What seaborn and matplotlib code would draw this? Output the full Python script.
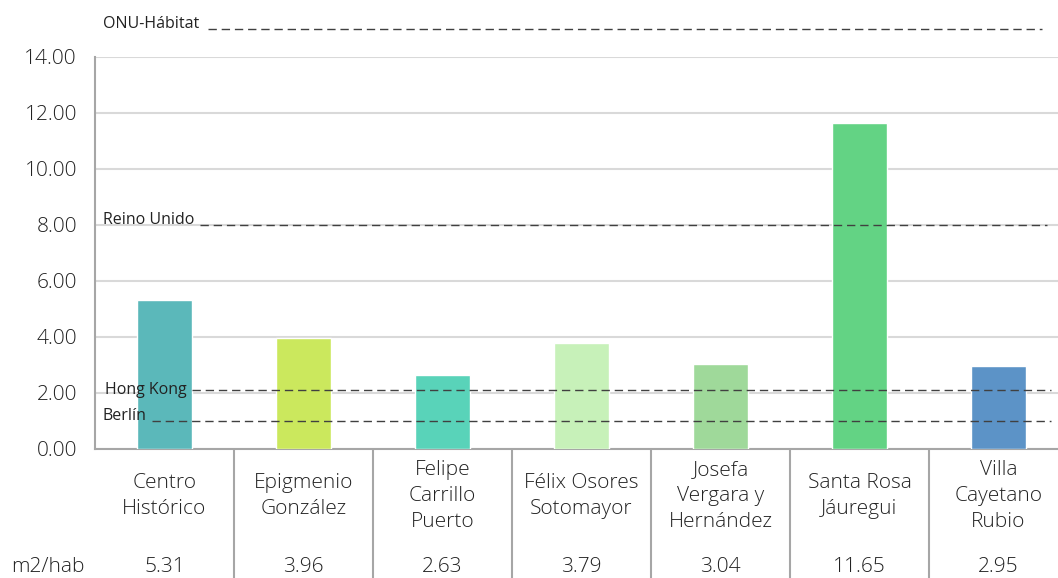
import matplotlib
matplotlib.use("Agg")
import matplotlib.pyplot as plt
import matplotlib.transforms as mtransforms
import seaborn as sns
import pandas as pd

# datos
colonias = ["Centro\nHistórico", "Epigmenio\nGonzález", "Felipe\nCarrillo\nPuerto",
            "Félix Osores\nSotomayor", "Josefa\nVergara y\nHernández",
            "Santa Rosa\nJáuregui", "Villa\nCayetano\nRubio"]
m2_hab = [5.31, 3.96, 2.63, 3.79, 3.04, 11.65, 2.95]
colores = ["#5BB8BA", "#CBE85D", "#59D3B9", "#C7F1B9", "#9FD99A", "#63D384", "#5C93C7"]

referencias = ["ONU-Hábitat", "Reino Unido", "Hong Kong", "Berlín"]
ref_valores = [15.0, 8.0, 2.1, 1.0]

sns.set_theme(style="white")
plt.rcParams["font.family"] = ["Open Sans", "DejaVu Sans"]
plt.rcParams["font.weight"] = "light"

df = pd.DataFrame({"colonia": colonias, "m2": m2_hab})

fig = plt.figure(figsize=(10.58, 5.78), dpi=100)
ax = fig.add_axes([95 / 1058, 129 / 578, 973 / 1058, 392 / 578])

sns.barplot(data=df, x="colonia", y="m2", hue="colonia", palette=colores,
            order=colonias, width=0.40, legend=False, saturation=1, ax=ax, zorder=3)

ax.set_xlim(-0.5, 6.5)
ax.set_ylim(0, 14)
ax.set_yticks(range(0, 15, 2))
ax.set_yticklabels([f"{v:.2f}" for v in range(0, 15, 2)], fontsize=15,
                   color="#222222", fontweight="light")
ax.tick_params(axis="y", length=0, pad=13)
ax.set_xticks([])
ax.set_xlabel("")
ax.set_ylabel("")
ax.yaxis.grid(True, color="#D9D9D9", lw=1.5, zorder=0)
ax.set_axisbelow(True)
for s in ["top", "right"]:
    ax.spines[s].set_visible(False)
for s in ["left", "bottom"]:
    ax.spines[s].set_color("#A6A6A6")
    ax.spines[s].set_linewidth(1.5)

# líneas de referencia
tr = mtransforms.blended_transform_factory(ax.transAxes, ax.transData)
inicio = [0.116, 0.108, 0.0997, 0.059]
fin = [0.973, 0.978, 0.983, 0.983]
for nombre, val, x0, x1 in zip(referencias, ref_valores, inicio, fin):
    ax.axhline(val, xmin=x0, xmax=x1, color="#404040", lw=1, ls=(0, (6, 3.5)),
               clip_on=False, zorder=4)
    if nombre == "Hong Kong":
        ax.text(0.0098, val + 0.02, nombre, transform=tr, fontsize=11.5,
                fontweight="normal", va="center", ha="left", color="#222222", zorder=5)
    else:
        ax.text(0.0082, val + 0.04, nombre, transform=tr, fontsize=11.5,
                fontweight="normal", va="baseline", ha="left", color="#222222", zorder=5)

# tabla de datos
xt = ax.get_xaxis_transform()
for i, (nombre, val) in enumerate(zip(colonias, m2_hab)):
    ax.text(i, -0.12, nombre, transform=xt, ha="center", va="center",
            fontsize=15, color="#222222", linespacing=1.4)
    ax.text(i, -0.30, f"{val:.2f}", transform=xt, ha="center", va="center",
            fontsize=15, color="#222222")
ax.vlines([k + 0.5 for k in range(6)], -0.33, 0, transform=xt, color="#A6A6A6",
          lw=1.5, clip_on=False)
ax.text(-0.048, -0.30, "m2/hab", transform=ax.transAxes, ha="center", va="center",
        fontsize=15, color="#222222")

fig.savefig("out.png", dpi=100)
